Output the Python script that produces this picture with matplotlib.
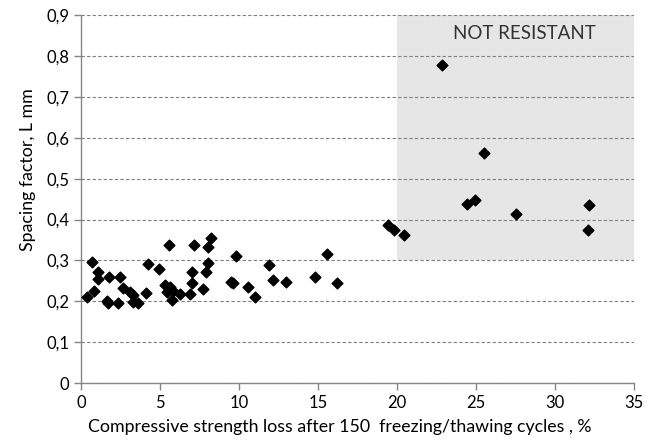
import matplotlib
matplotlib.use("Agg")
import matplotlib.pyplot as plt
from matplotlib.ticker import FuncFormatter, MultipleLocator
from matplotlib.patches import Rectangle

# compressive strength loss (%) and spacing factor (mm)
strength_loss = [
    0.36, 0.68, 0.82, 1.06, 1.06, 1.62, 1.69, 1.77, 2.36, 2.47, 2.68, 3.10,
    3.31, 3.31, 3.59, 4.11, 4.26, 4.94, 5.30, 5.42, 5.59, 5.63, 5.74, 5.84,
    6.27, 6.90, 7.00, 7.00, 7.17, 7.70, 7.91, 8.02, 8.02, 8.23, 9.49, 9.64,
    9.81, 10.59, 11.01, 11.92, 12.13, 12.95, 14.80, 15.55, 16.20,
    19.45, 19.81, 20.42, 22.87, 24.43, 24.96, 25.49, 27.53, 32.07, 32.15,
]
spacing_factor = [
    0.211, 0.297, 0.225, 0.273, 0.254, 0.200, 0.195, 0.260, 0.197, 0.260, 0.233, 0.223,
    0.215, 0.199, 0.197, 0.221, 0.291, 0.280, 0.240, 0.223, 0.339, 0.235, 0.203, 0.225,
    0.219, 0.219, 0.271, 0.244, 0.339, 0.231, 0.272, 0.332, 0.294, 0.355, 0.248, 0.245,
    0.310, 0.235, 0.211, 0.289, 0.252, 0.247, 0.260, 0.316, 0.246,
    0.386, 0.374, 0.363, 0.779, 0.438, 0.447, 0.564, 0.414, 0.374, 0.435,
]

# not-resistant zone
zone_x = (20, 35)
zone_y = (0.3, 0.9)

plt.rcParams['font.family'] = ['Lato', 'DejaVu Sans']
plt.rcParams['font.size'] = 12

fig = plt.figure(figsize=(6.56, 4.45), dpi=100)
ax = fig.add_axes([0.1235, 0.139, 0.843, 0.827])

ax.add_patch(Rectangle((zone_x[0], zone_y[0]), zone_x[1] - zone_x[0], zone_y[1] - zone_y[0],
                       facecolor='#e6e6e6', edgecolor='none', zorder=0))
ax.text(32.6, 0.855, 'NOT RESISTANT', ha='right', va='center', fontsize=13.5, color='#333333')

ax.scatter(strength_loss, spacing_factor, marker='D', s=30, color='black', zorder=3)

ax.set_xlim(0, 35)
ax.set_ylim(0, 0.9)
ax.xaxis.set_major_locator(MultipleLocator(5))
ax.yaxis.set_major_locator(MultipleLocator(0.1))

def comma_fmt(v, pos):
    if abs(v) < 1e-9:
        return '0'
    return f'{v:.1f}'.replace('.', ',')

ax.yaxis.set_major_formatter(FuncFormatter(comma_fmt))
ax.xaxis.set_major_formatter(FuncFormatter(lambda v, p: f'{int(round(v))}'))

ax.grid(axis='y', linestyle=(0, (3, 2)), color='#7f7f7f', linewidth=0.8, zorder=1)
ax.set_axisbelow(False)
for line in ax.get_ygridlines():
    line.set_zorder(1)

for s in ['top', 'right']:
    ax.spines[s].set_visible(False)
for s in ['left', 'bottom']:
    ax.spines[s].set_color('#868686')
    ax.spines[s].set_linewidth(1.0)
ax.tick_params(colors='#868686', labelcolor='black', length=5, width=1, labelsize=12)

ax.set_xlabel('Compressive strength loss after 150  freezing/thawing cycles , %', fontsize=12.8)
ax.set_ylabel('Spacing factor, L mm', fontsize=12.8)
ax.xaxis.set_label_coords(0.468, -0.12)
ax.yaxis.set_label_coords(-0.096, 0.58)
ax.xaxis.label.set_va('center')
ax.yaxis.label.set_va('center')

fig.savefig('out.png', dpi=100)
